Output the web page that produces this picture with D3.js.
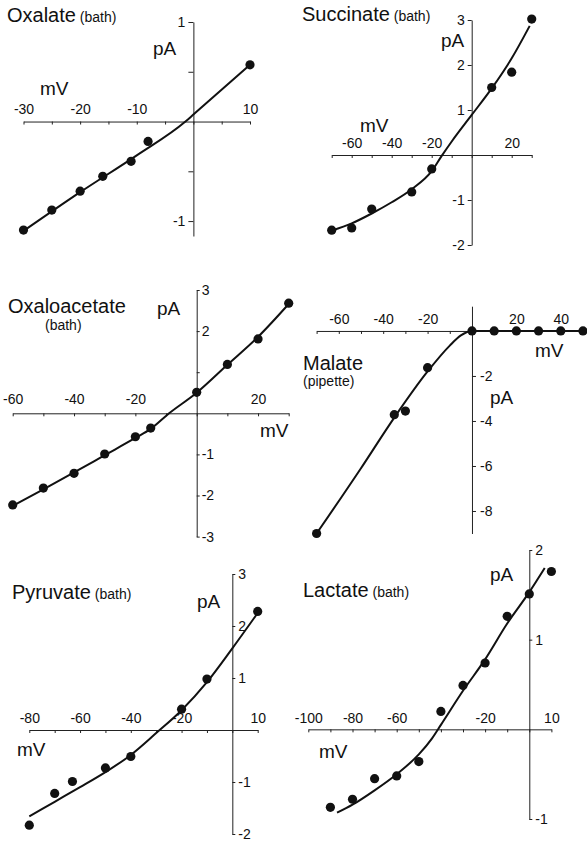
<!DOCTYPE html>
<html>
<head>
<meta charset="utf-8">
<script src="https://cdn.jsdelivr.net/npm/d3@7"></script>
<style>
  body { margin: 0; background: #fff; }
  svg { display: block; font-family: "Liberation Sans", Arial, sans-serif; }
  .tick text { font-size: 14px; fill: #111; }
  .domain, .tick line { stroke: #222; stroke-width: 1; }
</style>
</head>
<body>
<svg id="chart" width="587" height="841"></svg>
<script>
// Oxalate (bath)
const oxalateV = [-30, -25, -20, -16, -11, -8, 10];
const oxalateI = [-1.09, -0.89, -0.70, -0.55, -0.40, -0.20, 0.57];
const oxalateFitV = [-30, -20, -10, -1.4, 0, 10];
const oxalateFitI = [-1.1, -0.71, -0.34, 0, 0.07, 0.57];
const oxalateXTicks = [-30, -25, -20, -15, -10, -5, 0, 5, 10];
const oxalateXLabels = [-30, -20, -10, 10];
const oxalateYTicks = [1, 0.5, -0.5, -1];
const oxalateYLabels = [1, -1];

// Succinate (bath)
const succinateV = [-70, -60, -50, -30, -20, 10, 20, 30];
const succinateI = [-1.67, -1.62, -1.2, -0.82, -0.31, 1.50, 1.84, 3.02];
const succinateFitV = [-70, -60, -50, -40, -30, -20, -15, -10, 0, 10, 20, 29];
const succinateFitI = [-1.68, -1.52, -1.3, -1.05, -0.76, -0.36, -0.02, 0.3, 0.89, 1.48, 2.15, 2.87];
const succinateXTicks = [-70, -60, -50, -40, -30, -20, -10, 0, 10, 20, 30];
const succinateXLabels = [-60, -40, -20, 20];
const succinateYTicks = [3, 2, 1, -1, -2];
const succinateYLabels = [3, 2, 1, -1, -2];

// Oxaloacetate (bath)
const oxaloV = [-60, -50, -40, -30, -20, -15, 0, 10, 20, 30];
const oxaloI = [-2.23, -1.82, -1.46, -0.99, -0.57, -0.36, 0.51, 1.19, 1.81, 2.68];
const oxaloFitV = [-60, -50, -40, -30, -20, -15, -9, 0, 10, 20, 30];
const oxaloFitI = [-2.25, -1.85, -1.44, -1.02, -0.6, -0.38, 0, 0.5, 1.18, 1.86, 2.66];
const oxaloXTicks = [-60, -50, -40, -30, -20, -10, 0, 10, 20, 30];
const oxaloXLabels = [-60, -40, -20, 20];
const oxaloYTicks = [3, 2, 1, -1, -2, -3];
const oxaloYLabels = [3, 2, -1, -2, -3];

// Malate (pipette)
const malateV = [-70, -35, -30, -20, 0, 10, 20, 30, 40, 50];
const malateI = [-9.0, -3.72, -3.56, -1.63, 0, 0, 0, 0, 0, 0];
const malateFitV = [-70, -50, -35, -20, -10, -5, 0, 52];
const malateFitI = [-9.0, -6.1, -3.85, -1.8, -0.65, -0.2, 0, 0];
const malateXTicks = [-70, -60, -50, -40, -30, -20, -10, 0, 10, 20, 30, 40, 50];
const malateXLabels = [-60, -40, -20, 20, 40];
const malateYTicks = [-2, -4, -6, -8];
const malateYLabels = [-2, -4, -6, -8];

// Pyruvate (bath)
const pyruvateV = [-80, -70, -63, -50, -40, -20, -10, 10];
const pyruvateI = [-1.83, -1.22, -0.99, -0.73, -0.51, 0.40, 0.98, 2.28];
const pyruvateFitV = [-80, -70, -60, -50, -40, -30, -20, -10, 0, 10];
const pyruvateFitI = [-1.66, -1.38, -1.1, -0.81, -0.48, -0.06, 0.38, 0.92, 1.57, 2.25];
const pyruvateXTicks = [-80, -70, -60, -50, -40, -30, -20, -10, 0, 10];
const pyruvateXLabels = [-80, -60, -40, -20, 10];
const pyruvateYTicks = [3, 2, 1, -1, -2];
const pyruvateYLabels = [3, 2, 1, -1, -2];

// Lactate (bath)
const lactateV = [-90, -80, -70, -60, -50, -40, -30, -20, -10, 0, 10];
const lactateI = [-0.87, -0.78, -0.55, -0.52, -0.36, 0.20, 0.49, 0.74, 1.26, 1.51, 1.76];
const lactateFitV = [-87, -80, -70, -60, -50, -44, -40, -30, -20, -10, 0, 7];
const lactateFitI = [-0.93, -0.84, -0.68, -0.5, -0.28, -0.1, 0.05, 0.43, 0.78, 1.18, 1.53, 1.8];
const lactateXTicks = [-100, -90, -80, -70, -60, -50, -40, -30, -20, -10, 0, 10];
const lactateXLabels = [-100, -80, -60, -20, 10];
const lactateYTicks = [2, 1, -1];
const lactateYLabels = [2, 1, -1];

const svg = d3.select("#chart");

const panels = [
    { name: "Oxalate", sub: "(bath)", subInline: true, title: [7, 22],
      v: oxalateV, i: oxalateI, fv: oxalateFitV, fi: oxalateFitI,
      xTicks: oxalateXTicks, xLabels: oxalateXLabels, yTicks: oxalateYTicks, yLabels: oxalateYLabels,
      xDomain: [-30, 10], xRange: [23.5, 250], yDomain: [1, -1.15], yRange: [22, 236],
      yLeft: true, ySize: 5, yPad: 3, xPad: 8, pA: [153, 55], mV: [40, 95] },
    { name: "Succinate", sub: "(bath)", subInline: true, title: [302, 21],
      v: succinateV, i: succinateI, fv: succinateFitV, fi: succinateFitI,
      xTicks: succinateXTicks, xLabels: succinateXLabels, yTicks: succinateYTicks, yLabels: succinateYLabels,
      xDomain: [-70, 30], xRange: [331.7, 531.7], yDomain: [3, -2], yRange: [20, 245],
      yLeft: true, ySize: 4, yPad: 3, xPad: 7, pA: [441, 47], mV: [360, 132] },
    { name: "Oxaloacetate", sub: "(bath)", subInline: false, title: [8, 313], subPos: [45, 330],
      v: oxaloV, i: oxaloI, fv: oxaloFitV, fi: oxaloFitI,
      xTicks: oxaloXTicks, xLabels: oxaloXLabels, yTicks: oxaloYTicks, yLabels: oxaloYLabels,
      xDomain: [-60, 30], xRange: [12.7, 288.7], yDomain: [3, -3], yRange: [290, 536.6],
      yLeft: false, ySize: 3, yPad: 2, xPad: 9, pA: [157, 315], mV: [260, 437] },
    { name: "Malate", sub: "(pipette)", subInline: false, title: [303, 370], subPos: [303, 386],
      v: malateV, i: malateI, fv: malateFitV, fi: malateFitI,
      xTicks: malateXTicks, xLabels: malateXLabels, yTicks: malateYTicks, yLabels: malateYLabels,
      xDomain: [-70, 52], xRange: [316.6, 587.4], yDomain: [1.1, -9], yRange: [306.2, 533.5],
      yLeft: false, ySize: 4, yPad: 4, xPad: 7, pA: [490, 404], mV: [535, 357] },
    { name: "Pyruvate", sub: "(bath)", subInline: true, title: [12, 599],
      v: pyruvateV, i: pyruvateI, fv: pyruvateFitV, fi: pyruvateFitI,
      xTicks: pyruvateXTicks, xLabels: pyruvateXLabels, yTicks: pyruvateYTicks, yLabels: pyruvateYLabels,
      xDomain: [-80, 10], xRange: [29.3, 257.7], yDomain: [3, -2], yRange: [574, 834],
      yLeft: false, ySize: 3, yPad: 3, xPad: 7, pA: [197, 608], mV: [17, 756] },
    { name: "Lactate", sub: "(bath)", subInline: true, title: [303, 597],
      v: lactateV, i: lactateI, fv: lactateFitV, fi: lactateFitI,
      xTicks: lactateXTicks, xLabels: lactateXLabels, yTicks: lactateYTicks, yLabels: lactateYLabels,
      xDomain: [-100, 10], xRange: [308.3, 551.4], yDomain: [2, -1], yRange: [550, 819],
      yLeft: false, ySize: 3, yPad: 3, xPad: 6, pA: [490, 581], mV: [319, 758] }
];

panels.forEach(p => {
    const x = d3.scaleLinear().domain(p.xDomain).range(p.xRange);
    const y = d3.scaleLinear().domain(p.yDomain).range(p.yRange);
    const g = svg.append("g");

    // x axis: labels above, small ticks hanging down
    g.append("g")
        .attr("transform", `translate(0,${y(0)})`)
        .call(d3.axisTop(x)
            .tickValues(p.xTicks)
            .tickSizeInner(-3)
            .tickSizeOuter(0)
            .tickPadding(p.xPad)
            .tickFormat(d => p.xLabels.includes(d) ? String(d) : ""));

    // y axis
    const yAxis = (p.yLeft ? d3.axisLeft(y) : d3.axisRight(y))
        .tickValues(p.yTicks)
        .tickSizeInner(p.ySize)
        .tickSizeOuter(0)
        .tickPadding(p.yPad)
        .tickFormat(d => p.yLabels.includes(d) ? String(d) : "");
    g.append("g")
        .attr("transform", `translate(${x(0)},0)`)
        .call(yAxis);

    g.selectAll(".domain").attr("stroke", "#222");
    g.selectAll(".tick line").attr("stroke", "#222");

    // fitted curve
    const fit = p.fv.map((v, k) => [v, p.fi[k]]);
    g.append("path")
        .datum(fit)
        .attr("fill", "none")
        .attr("stroke", "#111")
        .attr("stroke-width", 2)
        .attr("d", d3.line()
            .x(d => x(d[0]))
            .y(d => y(d[1]))
            .curve(d3.curveMonotoneX));

    // measured points
    g.selectAll("circle.pt")
        .data(p.v.map((v, k) => [v, p.i[k]]))
        .enter()
        .append("circle")
        .attr("class", "pt")
        .attr("cx", d => x(d[0]))
        .attr("cy", d => y(d[1]))
        .attr("r", 4.6)
        .attr("fill", "#111");

    // titles and units
    const t = g.append("text")
        .attr("x", p.title[0])
        .attr("y", p.title[1])
        .attr("font-size", 20)
        .attr("fill", "#111")
        .text(p.name);
    if (p.subInline) {
        t.append("tspan").attr("font-size", 14).text(" " + p.sub);
    } else {
        g.append("text")
            .attr("x", p.subPos[0])
            .attr("y", p.subPos[1])
            .attr("font-size", 14)
            .attr("fill", "#111")
            .text(p.sub);
    }
    g.append("text")
        .attr("x", p.pA[0]).attr("y", p.pA[1])
        .attr("font-size", 19).attr("fill", "#111")
        .text("pA");
    g.append("text")
        .attr("x", p.mV[0]).attr("y", p.mV[1])
        .attr("font-size", 19).attr("fill", "#111")
        .text("mV");
});
</script>
</body>
</html>
